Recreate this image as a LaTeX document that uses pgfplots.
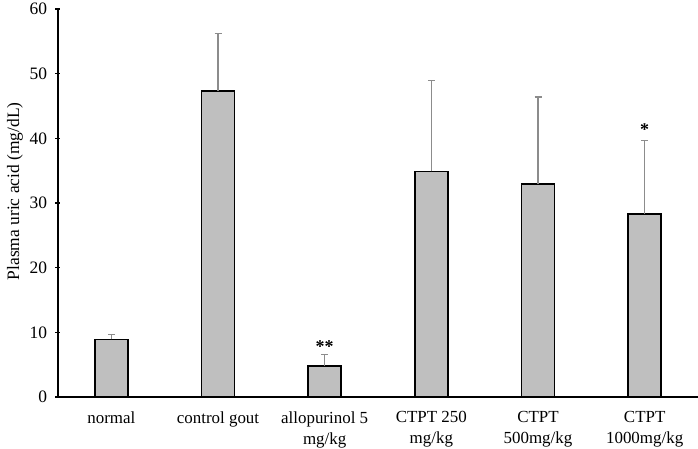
\documentclass[border=0pt]{standalone}
\usepackage{pgfplots}
\pgfplotsset{compat=1.18}
\usepackage{fontspec}
\setmainfont{Liberation Serif}
\definecolor{barfill}{HTML}{BFBFBF}
\definecolor{errc}{HTML}{8C8C8C}
\begin{document}
\begin{tikzpicture}
\begin{axis}[
  scale only axis,
  width=640bp, height=388bp,
  xmin=-0.5, xmax=5.5,
  ymin=0, ymax=60,
  ytick={0,10,...,60},
  xtick={0,1,2,3,4,5},
  xticklabels={normal, control gout, {allopurinol 5\\mg/kg}, {CTPT 250\\mg/kg}, {CTPT\\500mg/kg}, {CTPT\\1000mg/kg}},
  xticklabel style={align=center, font=\fontsize{17}{21}\selectfont, yshift=-6bp},
  yticklabel style={font=\fontsize{17.5}{19}\selectfont, xshift=-5bp},
  /pgf/number format/assume math mode=true,
  major x tick style={draw=none},
  ytick style={black, line width=1.2bp},
  major tick length=5bp,
  tick align=outside,
  axis x line=bottom, axis y line=left,
  axis line style={-, line width=1.8bp},
  ylabel={Plasma uric acid (mg/dL)},
  ylabel style={font=\fontsize{17.5}{19}\selectfont, at={(axis description cs:0,0.53)}, anchor=center, yshift=43bp},
  ybar, bar width=33bp,
  clip=false,
]
\addplot[fill=barfill, draw=black, line width=1.6bp,
  error bars/.cd, y dir=plus, y explicit,
  error bar style={errc, line width=1.2bp},
  error mark options={rotate=90, mark size=3.5bp, errc, line width=1.2bp}]
  coordinates {
  (0,8.9) +- (0,0.8)
  (1,47.3) +- (0,8.9)
  (2,4.8) +- (0,1.8)
  (3,34.9) +- (0,14.1)
  (4,32.9) +- (0,13.5)
  (5,28.3) +- (0,11.4)
  };
\node[font=\fontsize{18}{19}\selectfont\bfseries] at (axis cs:2,7.8) {**};
\node[font=\fontsize{18}{19}\selectfont\bfseries] at (axis cs:5,41.3) {*};
\coordinate (ll) at (rel axis cs:0,0);
\coordinate (ur) at (rel axis cs:1,1);
\end{axis}
\pgfresetboundingbox
\path ([shift={(-58bp,-52bp)}]ll) rectangle ([shift={(0bp,9bp)}]ur);
\end{tikzpicture}
\end{document}
